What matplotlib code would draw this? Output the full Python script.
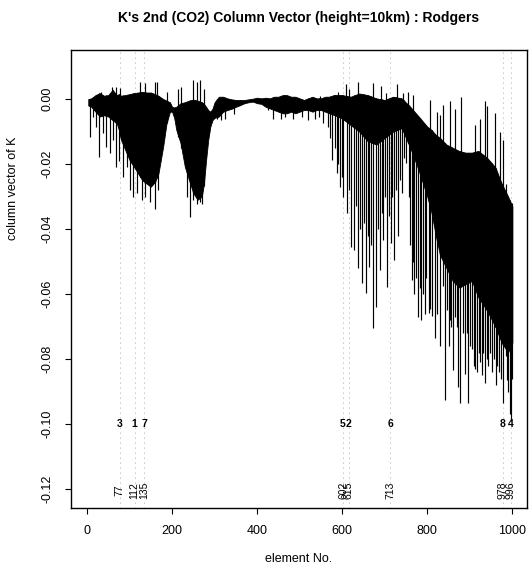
import numpy as np
import matplotlib
matplotlib.use("Agg")
import matplotlib.pyplot as plt

plt.rcParams['font.family'] = ['Liberation Sans', 'DejaVu Sans']

# ---- dense band envelope (element, upper, lower) ----
band_elem = [3, 10, 20, 30, 40, 50, 60, 70, 75, 80, 90, 100, 110, 120, 130, 140, 150, 160, 168,
             179, 187, 195, 200, 205, 210, 220, 230, 240, 250, 260, 270, 275, 280, 285, 290, 295,
             300, 310, 320, 330, 340, 350, 360, 370, 380, 390, 400, 410, 420, 430, 440, 450, 460,
             470, 480, 490, 500, 510, 520, 530, 540, 550, 560, 570, 580, 590, 600, 620, 640, 660,
             680, 700, 720, 740, 760, 780, 800, 810, 820, 830, 845, 860, 875, 890, 905, 920, 940,
             960, 975, 990, 1000]
band_top = [0.000, 0.0002, 0.0012, 0.0018, 0.0010, 0.0012, 0.0028, 0.0012, 0.0015, 0.0010, 0.0012,
            0.0015, 0.0018, 0.0020, 0.0022, 0.0020, 0.0020, 0.0015, 0.0010, 0.0000, -0.0005, -0.0010,
            -0.0024, -0.0026, -0.0024, -0.0013, -0.0010, -0.0005, -0.0002, -0.0005, -0.0010, -0.0015,
            -0.0024, -0.0034, -0.0039, -0.0030, -0.0010, 0.0007, 0.0007, 0.0002, -0.0001, -0.0003,
            -0.0003, -0.0003, -0.0001, 0.0001, 0.0004, 0.0002, 0.0004, 0.0002, 0.0007, 0.0007, 0.0012,
            0.0012, 0.0007, 0.0007, 0.0002, -0.0003, 0.0002, 0.0007, 0.0002, 0.0002, 0.0007, 0.0007,
            0.0012, 0.0012, 0.0012, 0.0007, 0.0017, 0.0012, 0.0002, -0.0003, 0.0007, 0.0002, -0.0024,
            -0.0054, -0.0085, -0.0095, -0.0110, -0.0120, -0.0140, -0.0150, -0.0160, -0.0165, -0.0165,
            -0.0160, -0.0180, -0.0210, -0.0260, -0.0300, -0.0330]
band_bot = [-0.0020, -0.0024, -0.0039, -0.0054, -0.0050, -0.0054, -0.0065, -0.0075, -0.0095, -0.0126,
            -0.0157, -0.0188, -0.0208, -0.0229, -0.0250, -0.0260, -0.0270, -0.0255, -0.0229, -0.0147,
            -0.0075, -0.0039, -0.0039, -0.0058, -0.0095, -0.0136, -0.0208, -0.0250, -0.0290, -0.0310,
            -0.0300, -0.0260, -0.0188, -0.0126, -0.0085, -0.0065, -0.0058, -0.0054, -0.0039, -0.0034,
            -0.0030, -0.0024, -0.0019, -0.0013, -0.0010, -0.0008, -0.0013, -0.0015, -0.0024, -0.0029,
            -0.0034, -0.0039, -0.0044, -0.0044, -0.0039, -0.0044, -0.0039, -0.0034, -0.0034, -0.0039,
            -0.0034, -0.0034, -0.0039, -0.0044, -0.0049, -0.0054, -0.0060, -0.0080, -0.0100, -0.0130,
            -0.0140, -0.0120, -0.0100, -0.0090, -0.0150, -0.0220, -0.0300, -0.0350, -0.0420, -0.0480,
            -0.0520, -0.0560, -0.0580, -0.0570, -0.0560, -0.0610, -0.0650, -0.0700, -0.0750, -0.0780,
            -0.0750]

# ---- downward spikes (element, minimum) ----
spike_elem = [7, 15, 21, 29, 37, 45, 53, 60, 68, 76, 85, 93, 101, 109, 118, 129, 136, 147, 160, 168,
              234, 242, 250, 258, 266, 270,
              305, 315, 325, 345, 425, 438, 455, 465, 485, 505, 520, 535, 545, 555,
              567, 572, 577, 582, 587, 591, 595, 599, 603, 611, 615, 620, 628, 633, 638, 642, 647,
              651, 656, 660, 664, 668, 673, 680, 685, 689, 693, 697, 701, 706, 710, 714, 718, 722,
              726, 731, 736, 741, 745, 751, 756, 760, 764, 767, 770, 774, 778, 782, 786, 790, 794,
              798, 803, 807, 811, 818, 824, 829, 836, 842, 846, 850, 853, 857, 861, 866, 869, 873,
              877, 883, 889, 893, 897, 901, 905, 910, 913, 916, 921, 924, 928, 932, 936, 940, 944,
              948, 952, 957, 961, 965, 969, 974, 979, 985, 988, 991, 994, 997, 1000]
spike_min = [-0.0116, -0.0054, -0.0085, -0.0177, -0.0105, -0.0147, -0.0167, -0.0126, -0.0208, -0.0190,
             -0.0239, -0.0210, -0.0280, -0.0301, -0.0290, -0.0311, -0.0300, -0.0316, -0.0337, -0.0280,
             -0.0301, -0.0362, -0.0311, -0.0322, -0.0316, -0.0322,
             -0.0060, -0.0065, -0.0060, -0.0045, -0.0035, -0.0060, -0.0060, -0.0055, -0.0060, -0.0055,
             -0.0065, -0.0060, -0.0055, -0.0075,
             -0.0085, -0.0120, -0.0188, -0.0150, -0.0228, -0.0200, -0.0270, -0.0240, -0.0300, -0.0350,
             -0.0280, -0.0454, -0.0464, -0.0330, -0.0520, -0.0400, -0.0567, -0.0380, -0.0598, -0.0420,
             -0.0516, -0.0450, -0.0705, -0.0639, -0.0400, -0.0526, -0.0350, -0.0434, -0.0300, -0.0577,
             -0.0360, -0.0444, -0.0300, -0.0495, -0.0280, -0.0423, -0.0250, -0.0290, -0.0180, -0.0198,
             -0.0300, -0.0450, -0.0557, -0.0500, -0.0600, -0.0550, -0.0670, -0.0580, -0.0680, -0.0600,
             -0.0660, -0.0550, -0.0659, -0.0645, -0.0669, -0.0736, -0.0660, -0.0761, -0.0576, -0.0925,
             -0.0650, -0.0761, -0.0680, -0.0700, -0.0833, -0.0670, -0.0700, -0.0885, -0.0936, -0.0720,
             -0.0845, -0.0720, -0.0936, -0.0760, -0.0770, -0.0820, -0.0830, -0.0840, -0.0780, -0.0810,
             -0.0850, -0.0780, -0.0875, -0.0800, -0.0820, -0.0780, -0.0840, -0.0800, -0.0880, -0.0820,
             -0.0840, -0.0860, -0.0936, -0.0790, -0.0865, -0.0900, -0.0970, -0.0990, -0.0860]

# ---- upward spikes (element, maximum) ----
up_elem = [34, 58, 68, 78, 125, 136, 160, 164, 187, 215, 222, 250, 258, 266, 274,
           548, 591, 609, 617, 638, 673, 691, 704, 730, 743, 755, 767, 807, 823, 830, 838, 853, 866,
           879, 913, 925, 935, 941, 960, 970, 978, 985, 1000]
up_max = [0.0023, 0.0038, 0.0038, 0.0033, 0.0053, 0.0049, 0.0053, 0.0053, 0.0023, 0.0030, 0.0036,
          0.0059, 0.0053, 0.0059, 0.0030,
          0.0010, 0.0023, 0.0045, 0.0030, 0.0053, 0.0050, 0.0040, 0.0017, 0.0045, 0.0020, 0.0023,
          0.0012, -0.0003, -0.0040, -0.0050, -0.0018, -0.0007, -0.0030, 0.0007, -0.0080, -0.0060,
          -0.0007, -0.0020, -0.0044, -0.0100, -0.0126, -0.0260, -0.0320]

# ---- labelled elements and their ranks ----
mark_elem = [77, 112, 135, 602, 615, 713, 978, 996]
mark_rank = ['3', '1', '7', '5', '2', '6', '8', '4']

xticks = [0, 200, 400, 600, 800, 1000]
yticks = [0.00, -0.02, -0.04, -0.06, -0.08, -0.10, -0.12]
ytick_labels = ['0.00', '-0.02', '-0.04', '-0.06', '-0.08', '-0.10', '-0.12']

fig = plt.figure(figsize=(5.29, 5.68), dpi=100)
ax = fig.add_axes([71/529, 1-508/568, (527-71)/529, (508-50)/568])

be = np.array(band_elem, float)
bt = np.array(band_top)
bb = np.array(band_bot)

# labelled element guide lines
for e in mark_elem:
    ax.axvline(e, color='0.55', lw=0.6, ls=(0, (1, 5)), zorder=1)

ax.fill_between(be, bb, bt, color='black', lw=0.6, zorder=2)

se = np.array(spike_elem, float)
ax.vlines(se, spike_min, np.interp(se, be, bt), color='black', lw=0.85, zorder=3)
ue = np.array(up_elem, float)
ax.vlines(ue, np.interp(ue, be, bb), up_max, color='black', lw=0.85, zorder=3)

for e, r in zip(mark_elem, mark_rank):
    ax.text(e, -0.100, r, ha='center', va='center', fontsize=7.5, fontweight='bold', zorder=4)
    ax.text(e, -0.1205, str(e), ha='center', va='center', rotation=90, fontsize=7.5, zorder=4)

ax.set_xlim((71-87)/0.4253, (527-87)/0.4253)
ax.set_ylim((99-508)/3250, (99-50)/3250)
ax.set_xticks(xticks)
ax.set_xticklabels([str(t) for t in xticks], fontsize=9)
ax.set_yticks(yticks)
ax.set_yticklabels(ytick_labels, fontsize=9, rotation=90, va='center')
ax.tick_params(direction='out', length=4.5, width=0.8, pad=8)
for s in ax.spines.values():
    s.set_linewidth(1.0)

fig.text(299/529, 1-559/568, 'element No.', ha='center', va='center', fontsize=9)
fig.text(13/529, 1-(40+445/3)/568, 'column vector of K', ha='center', va='center',
         rotation=90, fontsize=9)
fig.text(299/529, 1-18/568, "K's 2nd (CO2) Column Vector (height=10km) : Rodgers",
         ha='center', va='center', fontsize=10, fontweight='bold')

fig.savefig('out.png', dpi=100)
